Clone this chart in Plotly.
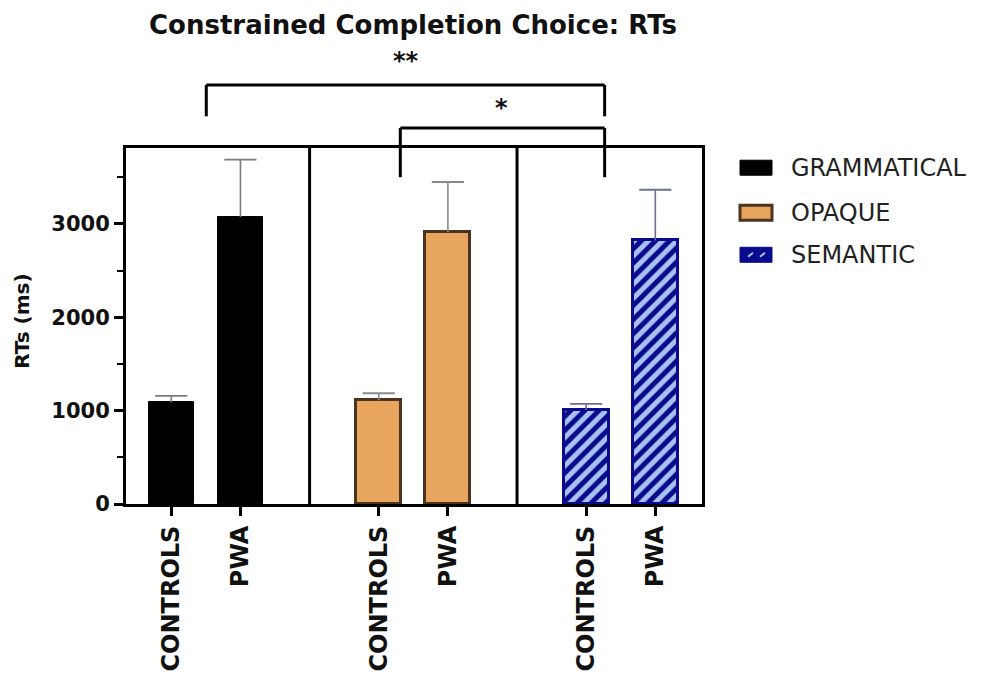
import plotly.graph_objects as go

# ---------------- data ----------------
conditions = ["GRAMMATICAL", "OPAQUE", "SEMANTIC"]
groups = ["CONTROLS", "PWA"]
grammatical_rt = [1090, 3073]
grammatical_err = [67, 614]
opaque_rt = [1110, 2912]
opaque_err = [76, 536]
semantic_rt = [1007, 2822]
semantic_err = [65, 543]
y_ticks = [0, 1000, 2000, 3000]
sig_labels = ["**", "*"]

values = [grammatical_rt, opaque_rt, semantic_rt]
errors = [grammatical_err, opaque_err, semantic_err]

# ---------------- styles ----------------
fills = ["#000000", "#E8A55E", "#A8C2F0"]
outlines = ["#000000", "#4A3320", "#0A0A8C"]
err_cols = ["#7a7a7a", "#8a8a8a", "#6e6e9a"]
BOLD = dict(family="DejaVu Sans", weight="bold", color="#111111")

fig = go.Figure()
for i, cond in enumerate(conditions):
    xs = [i * 3 + j for j in range(len(groups))]
    marker = dict(color=fills[i], line=dict(color=outlines[i], width=3 if i > 0 else 1))
    if i == 2:
        marker["pattern"] = dict(shape="/", fgcolor="#0A0A8C", bgcolor="#A8C2F0",
                                 size=10, solidity=0.5, fillmode="replace")
    fig.add_trace(go.Bar(
        x=xs, y=values[i], name=cond, width=0.65, marker=marker,
        error_y=dict(type="data", array=errors[i], arrayminus=[0] * len(groups),
                     symmetric=False, color=err_cols[i], thickness=1.6, width=0),
        showlegend=False,
    ))
    # error bar caps
    fig.add_trace(go.Scatter(
        x=xs, y=[v + e for v, e in zip(values[i], errors[i])], mode="markers",
        marker=dict(symbol="line-ew", size=23, line=dict(color=err_cols[i], width=1.8)),
        showlegend=False, hoverinfo="skip", cliponaxis=False,
    ))

tickvals = [i * 3 + j for i in range(len(conditions)) for j in range(len(groups))]
ticktext = [g for _ in conditions for g in groups]

X0, X1 = -0.655, 7.675
Y0, Y1 = 0, 3812

fig.update_layout(
    width=995, height=691,
    margin=dict(l=118, r=301, t=140, b=195),
    plot_bgcolor="white", paper_bgcolor="white",
    bargap=0,
    title=dict(text="<b>Constrained Completion Choice: RTs</b>",
               x=0.407, xanchor="center", y=0.975, yanchor="middle",
               font=dict(family="DejaVu Sans", size=26, color="#111111")),
    xaxis=dict(range=[X0, X1], tickvals=tickvals, ticktext=ticktext, tickangle=-90,
               showline=True, linewidth=3, linecolor="black", mirror=True,
               ticks="outside", ticklen=9, tickwidth=3, tickcolor="black",
               showgrid=False, zeroline=False, automargin=False,
               tickfont=dict(size=24, **BOLD)),
    yaxis=dict(range=[Y0, Y1], tickvals=y_ticks,
               showline=True, linewidth=3, linecolor="black", mirror=True,
               ticks="outside", ticklen=9, tickwidth=3, tickcolor="black",
               minor=dict(ticks="outside", dtick=500, ticklen=6, tickwidth=2, tickcolor="black"),
               showgrid=False, zeroline=False, automargin=False,
               tickfont=dict(size=21, **BOLD)),
)

# group dividers
for xd in [2, 5]:
    fig.add_shape(type="line", xref="x", yref="paper", x0=xd, x1=xd, y0=0, y1=1,
                  line=dict(color="black", width=3))

# significance brackets (x in data units, y in paper units above the plot)
brackets = [
    (0.506, 6.267, 1.177, 1.089, sig_labels[0], 3.39, 1.245),
    (3.312, 6.267, 1.056, 0.918, sig_labels[1], 4.77, 1.113),
]
for xa, xb, ytop, ybot, lab, xt, yt in brackets:
    for (x0_, y0_, x1_, y1_) in [(xa, ybot, xa, ytop), (xa, ytop, xb, ytop), (xb, ytop, xb, ybot)]:
        fig.add_shape(type="line", xref="x", yref="paper", x0=x0_, x1=x1_, y0=y0_, y1=y1_,
                      line=dict(color="black", width=3))
    fig.add_annotation(x=xt, y=yt, xref="x", yref="paper", text="<b>" + lab + "</b>",
                       showarrow=False, font=dict(family="DejaVu Sans", size=24, color="#111111"),
                       xanchor="center", yanchor="middle")

# y-axis title
fig.add_annotation(x=-0.181, y=0.514, xref="paper", yref="paper", text="<b>RTs (ms)</b>",
                   textangle=-90, showarrow=False, xanchor="center", yanchor="middle",
                   font=dict(family="DejaVu Sans", size=20, color="#111111"))

# custom legend (page pixel -> plot paper coordinates)
def px2paper(px, py):
    return (px - 126) / 576.0, (504 - py) / 355.7

leg_rows = [168, 213, 255]
for i, cond in enumerate(conditions):
    cy = leg_rows[i]
    xa, ya = px2paper(740, cy - 7.5)
    xb, yb = px2paper(772, cy + 7.5)
    fc = fills[i] if i < 2 else "#0A0A8C"
    fig.add_shape(type="rect", xref="paper", yref="paper", x0=xa, x1=xb, y0=yb, y1=ya,
                  fillcolor=fc, line=dict(color=outlines[i], width=3 if i == 1 else 1))
    if i == 2:
        for sx in [748, 760]:
            la, lb = px2paper(sx, cy + 2)
            lc, ld = px2paper(sx + 5, cy - 2)
            fig.add_shape(type="line", xref="paper", yref="paper", x0=la, x1=lc, y0=lb, y1=ld,
                          line=dict(color="#A8C2F0", width=2))
    tx, ty = px2paper(789, cy)
    fig.add_annotation(x=tx, y=ty, xref="paper", yref="paper", text=cond, showarrow=False,
                       xanchor="left", yanchor="middle",
                       font=dict(family="DejaVu Sans", size=24, color="#222222"))

fig.write_html("out.html")
